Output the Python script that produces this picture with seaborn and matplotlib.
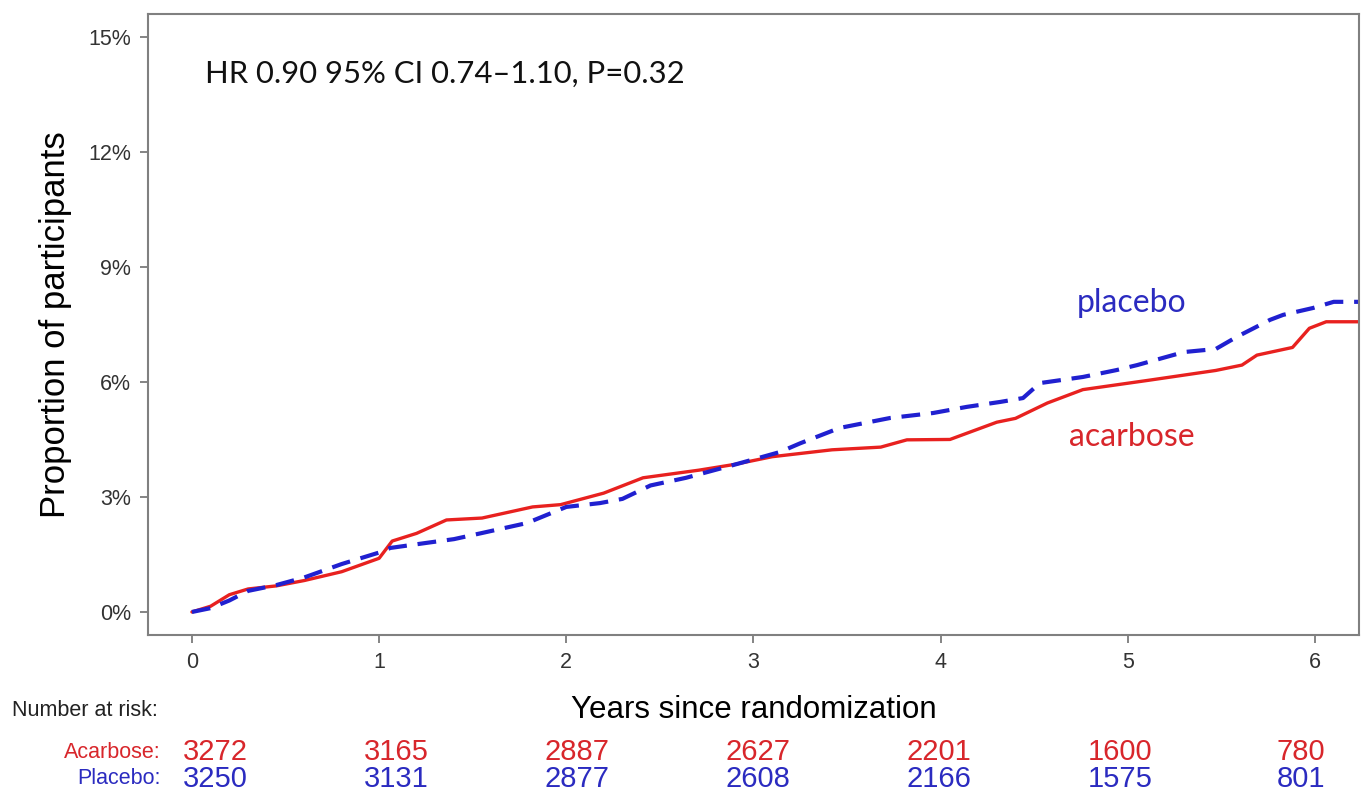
"""Cumulative incidence curves, acarbose vs placebo, with number-at-risk table."""

import pandas as pd
import seaborn as sns
import matplotlib.pyplot as plt
from matplotlib.ticker import FuncFormatter

# curve points (years, % of participants)
acarbose_years = [0.0, 0.1, 0.2, 0.3, 0.45, 0.6, 0.8, 1.0, 1.07, 1.2, 1.36, 1.55,
                  1.82, 1.97, 2.2, 2.41, 2.71, 2.9, 3.1, 3.42, 3.68, 3.82, 4.05,
                  4.3, 4.4, 4.57, 4.76, 5.12, 5.47, 5.61, 5.69, 5.88, 5.97, 6.06, 6.235]
acarbose_pct = [0.0, 0.15, 0.45, 0.6, 0.68, 0.82, 1.05, 1.4, 1.85, 2.05, 2.4, 2.45,
                2.74, 2.8, 3.1, 3.5, 3.7, 3.85, 4.05, 4.23, 4.3, 4.49, 4.5,
                4.95, 5.05, 5.45, 5.8, 6.05, 6.3, 6.44, 6.7, 6.9, 7.4, 7.57, 7.57]

placebo_years = [0.0, 0.1, 0.2, 0.3, 0.45, 0.6, 0.8, 1.0, 1.06, 1.25, 1.4, 1.55,
                 1.79, 2.0, 2.18, 2.3, 2.45, 2.64, 2.89, 3.14, 3.25, 3.46, 3.73,
                 3.96, 4.14, 4.32, 4.44, 4.53, 4.76, 4.94, 5.05, 5.3, 5.47, 5.58,
                 5.76, 5.83, 5.99, 6.1, 6.235]
placebo_pct = [0.0, 0.1, 0.3, 0.55, 0.7, 0.9, 1.25, 1.55, 1.67, 1.8, 1.9, 2.06,
               2.32, 2.74, 2.84, 2.95, 3.3, 3.5, 3.83, 4.17, 4.4, 4.8, 5.06,
               5.19, 5.35, 5.48, 5.58, 5.97, 6.13, 6.31, 6.44, 6.78, 6.86, 7.17,
               7.62, 7.75, 7.93, 8.09, 8.09]

risk_years = [0, 1, 2, 3, 4, 5, 6]
risk_acarbose = [3272, 3165, 2887, 2627, 2201, 1600, 780]
risk_placebo = [3250, 3131, 2877, 2608, 2166, 1575, 801]

RED = "#e8211f"
BLUE = "#2020d0"
RED_TXT = "#d8262b"
BLUE_TXT = "#2b2bc0"

sns.set_style("white")
plt.rcParams["font.family"] = ["Liberation Sans", "DejaVu Sans"]

fig = plt.figure(figsize=(13.61, 7.96), dpi=100)
ax = fig.add_axes([0.1087, 0.2023, 0.8898, 0.7802])

acarbose = pd.DataFrame({"years": acarbose_years, "pct": acarbose_pct})
placebo = pd.DataFrame({"years": placebo_years, "pct": placebo_pct})

sns.lineplot(data=acarbose, x="years", y="pct", color=RED, linewidth=2.4, ax=ax)
sns.lineplot(data=placebo, x="years", y="pct", color=BLUE, linewidth=3.0,
             dashes=False, ax=ax).lines[-1].set_dashes((4.5, 2.6))

ax.set_xlim(-0.235, 6.235)
ax.set_ylim(-0.6, 15.6)
ax.set_xticks(range(7))
ax.set_yticks(range(0, 16, 3))
ax.yaxis.set_major_formatter(FuncFormatter(lambda v, _: f"{v:.0f}%"))
ax.tick_params(axis="both", direction="out", length=6, width=1.2, color="#707070",
               labelsize=15.5, labelcolor="#333333", pad=6, left=True, bottom=True)
for sp in ax.spines.values():
    sp.set_color("#808080")
    sp.set_linewidth(1.5)

ax.set_xlabel("Years since randomization", fontsize=22.5, labelpad=16, color="black")
ax.set_ylabel("Proportion of participants", fontsize=25, labelpad=12, color="black")

ax.text(0.07, 14.04, "HR 0.90 95% CI 0.74\u20131.10, P=0.32", fontsize=22.3,
        family=["Lato", "DejaVu Sans"], va="center", ha="left", color="#111111")
ax.text(5.02, 8.06, "placebo", fontsize=23, family=["Lato", "DejaVu Sans"],
        va="center", ha="center", color=BLUE_TXT)
ax.text(5.02, 4.57, "acarbose", fontsize=23, family=["Lato", "DejaVu Sans"],
        va="center", ha="center", color=RED_TXT)

# number-at-risk table; y in this axes follows image rows
tab = fig.add_axes([0, 0, 1, (796 - 690) / 796])
tab.set_xlim(-215 / 181, (1361 - 215) / 181)
tab.set_ylim(796, 690)
tab.axis("off")

tab.text(-1.12, 711, "Number at risk:", fontsize=15.5, ha="left", va="center",
         color="#222222")
tab.text(-0.30, 752, "Acarbose:", fontsize=15.5, ha="right", va="center", color=RED_TXT)
tab.text(-0.30, 779, "Placebo:", fontsize=15.5, ha="right", va="center", color=BLUE_TXT)
for yr, a, p in zip(risk_years, risk_acarbose, risk_placebo):
    tab.text(yr, 752, str(a), fontsize=21, ha="center", va="center", color=RED_TXT)
    tab.text(yr, 779, str(p), fontsize=21, ha="center", va="center", color=BLUE_TXT)

plt.savefig("out.png", dpi=100)
